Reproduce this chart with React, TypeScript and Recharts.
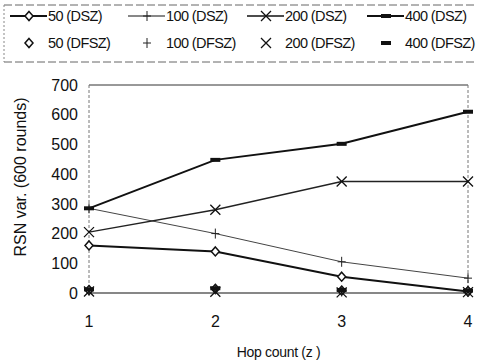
import {
  LineChart,
  Line,
  XAxis,
  YAxis,
  ReferenceLine,
} from "recharts";

const hops = [1, 2, 3, 4];
const yTicks = [0, 100, 200, 300, 400, 500, 600, 700];

const dsz50 = [160, 140, 55, 5];
const dsz100 = [285, 200, 105, 50];
const dsz200 = [205, 280, 375, 375];
const dsz400 = [285, 448, 502, 610];

const dfsz50 = [10, 14, 8, 6];
const dfsz100 = [8, 12, 5, 4];
const dfsz200 = [5, 4, 2, 3];
const dfsz400 = [12, 16, 10, 8];

const data = hops.map((z, i) => ({
  z,
  dsz50: dsz50[i],
  dsz100: dsz100[i],
  dsz200: dsz200[i],
  dsz400: dsz400[i],
  dfsz50: dfsz50[i],
  dfsz100: dfsz100[i],
  dfsz200: dfsz200[i],
  dfsz400: dfsz400[i],
}));

type Shape = "diamond" | "plus" | "cross" | "dash";

const FONT = "Liberation Sans, Arial, sans-serif";

function Marker({ cx, cy, shape }: { cx: number; cy: number; shape: Shape }) {
  if (cx == null || cy == null) return null;
  if (shape === "diamond")
    return (
      <path
        d={`M${cx},${cy - 4.5}L${cx + 4},${cy}L${cx},${cy + 4.5}L${cx - 4},${cy}Z`}
        fill="#fff"
        stroke="#111"
        strokeWidth={1.5}
      />
    );
  if (shape === "plus")
    return (
      <path
        d={`M${cx - 4},${cy}H${cx + 4}M${cx},${cy - 5}V${cy + 5}`}
        stroke="#222"
        strokeWidth={1}
      />
    );
  if (shape === "cross")
    return (
      <path
        d={`M${cx - 5},${cy - 5}L${cx + 5},${cy + 5}M${cx + 5},${cy - 5}L${cx - 5},${cy + 5}`}
        stroke="#111"
        strokeWidth={1.3}
      />
    );
  return <rect x={cx - 5} y={cy - 2} width={10} height={4} fill="#111" />;
}

const dot = (shape: Shape) => (p: any) =>
  <Marker key={`${shape}-${p.index}-${p.dataKey}`} cx={p.cx} cy={p.cy} shape={shape} />;

const legendRows: { label: string; shape: Shape; line: boolean; w: number }[][] = [
  [
    { label: "50 (DSZ)", shape: "diamond", line: true, w: 2 },
    { label: "100 (DSZ)", shape: "plus", line: true, w: 1 },
    { label: "200 (DSZ)", shape: "cross", line: true, w: 1.4 },
    { label: "400 (DSZ)", shape: "dash", line: true, w: 2 },
  ],
  [
    { label: "50 (DFSZ)", shape: "diamond", line: false, w: 0 },
    { label: "100 (DFSZ)", shape: "plus", line: false, w: 0 },
    { label: "200 (DFSZ)", shape: "cross", line: false, w: 0 },
    { label: "400 (DFSZ)", shape: "dash", line: false, w: 0 },
  ],
];

function LegendBox() {
  const colX = [10, 128, 247, 367];
  return (
    <svg width={477} height={66} style={{ display: "block" }}>
      <line x1={4} y1={5} x2={476} y2={5} stroke="#666" strokeDasharray="8 3" />
      <line x1={4} y1={62} x2={476} y2={62} stroke="#666" strokeDasharray="8 3" />
      <line x1={4} y1={5} x2={4} y2={62} stroke="#888" strokeDasharray="2 2" />
      {legendRows.map((row, r) =>
        row.map((item, c) => {
          const x = colX[c];
          const y = r === 0 ? 16 : 43;
          return (
            <g key={`${r}-${c}`}>
              {item.line && (
                <line x1={x} y1={y} x2={x + 37} y2={y} stroke="#111" strokeWidth={item.w} />
              )}
              <Marker cx={x + 19} cy={y} shape={item.shape} />
              <text
                x={x + 38}
                y={y + 5}
                fontSize={14.5}
                letterSpacing={-0.6}
                fontFamily={FONT}
                fill="#111"
              >
                {item.label}
              </text>
            </g>
          );
        })
      )}
    </svg>
  );
}

function YLabel(props: any) {
  const vb = props.viewBox || {};
  const cy = vb.y + vb.height / 2 - 12;
  return (
    <text
      x={20}
      y={cy}
      transform={`rotate(-90, 20, ${cy})`}
      textAnchor="middle"
      dominantBaseline="central"
      fontSize={16}
      fontFamily={FONT}
      fill="#111"
    >
      RSN var. (600 rounds)
    </text>
  );
}

export default function App() {
  return (
    <div style={{ position: "absolute", left: 0, top: 0, width: 477, height: 362, background: "#fff" }}>
      <div style={{ position: "absolute", left: 0, top: 0 }}>
        <LegendBox />
      </div>
      <LineChart
        width={477}
        height={362}
        data={data}
        margin={{ top: 85, right: 9, bottom: 0, left: 0 }}
      >
        <XAxis
          dataKey="z"
          type="number"
          domain={[1, 4]}
          ticks={hops}
          interval={0}
          height={69}
          tickLine={false}
          axisLine={{ stroke: "#111", strokeWidth: 1.2 }}
          tick={{ fontSize: 16, fill: "#111", fontFamily: FONT }}
          tickMargin={17}
          label={{
            value: "Hop count (z )",
            position: "insideBottom",
            offset: 5,
            style: { fontSize: 14, fill: "#111", fontFamily: FONT, letterSpacing: -0.3 },
          }}
        />
        <YAxis
          width={89}
          domain={[0, 700]}
          ticks={yTicks}
          interval={0}
          tickLine={false}
          axisLine={{ stroke: "#777", strokeDasharray: "3 2" }}
          tick={{ fontSize: 16, fill: "#111", fontFamily: FONT }}
          tickMargin={5}
          label={<YLabel />}
        />
        <ReferenceLine y={700} stroke="#333" strokeWidth={1} />
        <ReferenceLine x={4} stroke="#777" strokeDasharray="3 2" />
        <Line dataKey="dsz50" stroke="#111" strokeWidth={2} dot={dot("diamond")} isAnimationActive={false} />
        <Line dataKey="dsz100" stroke="#444" strokeWidth={1} dot={dot("plus")} isAnimationActive={false} />
        <Line dataKey="dsz200" stroke="#222" strokeWidth={1.4} dot={dot("cross")} isAnimationActive={false} />
        <Line dataKey="dsz400" stroke="#111" strokeWidth={2} dot={dot("dash")} isAnimationActive={false} />
        <Line dataKey="dfsz50" stroke="none" dot={dot("diamond")} isAnimationActive={false} />
        <Line dataKey="dfsz100" stroke="none" dot={dot("plus")} isAnimationActive={false} />
        <Line dataKey="dfsz200" stroke="none" dot={dot("cross")} isAnimationActive={false} />
        <Line dataKey="dfsz400" stroke="none" dot={dot("dash")} isAnimationActive={false} />
      </LineChart>
    </div>
  );
}
